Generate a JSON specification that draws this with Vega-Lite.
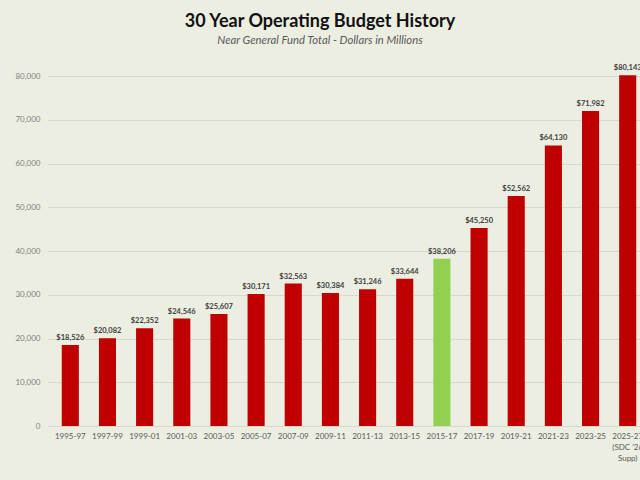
{
  "$schema": "https://vega.github.io/schema/vega-lite/v6.json",
  "description": "30 year operating budget history, near general fund total in millions.",
  "autosize": {"type": "none"},
  "padding": {"left": 48, "top": 76, "right": 0, "bottom": 54},
  "width": 602,
  "height": 350,
  "background": "#ECEEE2",
  "title": {
    "text": "30 Year Operating Budget History",
    "subtitle": "Near General Fund Total - Dollars in Millions",
    "anchor": "middle",
    "dx": -29,
    "offset": 18,
    "font": "Lato",
    "fontSize": 18,
    "fontWeight": "bold",
    "color": "#111111",
    "subtitleFont": "Lato",
    "subtitleFontSize": 11.3,
    "subtitleFontStyle": "italic",
    "subtitleColor": "#595959",
    "subtitlePadding": 4
  },
  "data": {
    "values": [
      {"period": "1995-97", "amount": 18526},
      {"period": "1997-99", "amount": 20082},
      {"period": "1999-01", "amount": 22352},
      {"period": "2001-03", "amount": 24546},
      {"period": "2003-05", "amount": 25607},
      {"period": "2005-07", "amount": 30171},
      {"period": "2007-09", "amount": 32563},
      {"period": "2009-11", "amount": 30384},
      {"period": "2011-13", "amount": 31246},
      {"period": "2013-15", "amount": 33644},
      {"period": "2015-17", "amount": 38206},
      {"period": "2017-19", "amount": 45250},
      {"period": "2019-21", "amount": 52562},
      {"period": "2021-23", "amount": 64130},
      {"period": "2023-25", "amount": 71982},
      {"period": "2025-27|(SDC '26|Supp)", "amount": 80143}
    ]
  },
  "encoding": {
    "x": {
      "field": "period",
      "type": "nominal",
      "sort": null,
      "scale": {"paddingInner": 0.54, "paddingOuter": 0.37},
      "axis": {
        "title": null,
        "labelAngle": 0,
        "labelFont": "Lato",
        "labelFontSize": 8,
        "labelColor": "#595959",
        "labelPadding": 6,
        "labelLineHeight": 11,
        "labelExpr": "split(datum.label, '|')",
        "ticks": false,
        "domain": false
      }
    },
    "y": {
      "field": "amount",
      "type": "quantitative",
      "scale": {"domain": [0, 80000], "nice": false},
      "axis": {
        "title": null,
        "values": [0, 10000, 20000, 30000, 40000, 50000, 60000, 70000, 80000],
        "format": ",.0f",
        "labelFont": "Lato",
        "labelFontSize": 8,
        "labelColor": "#7F7F7F",
        "labelPadding": 8,
        "ticks": false,
        "domain": false,
        "gridColor": "#D6D8CE",
        "gridWidth": 1
      }
    }
  },
  "layer": [
    {
      "mark": {"type": "bar"},
      "encoding": {
        "color": {
          "condition": {"test": "datum.period === '2015-17'", "value": "#92D050"},
          "value": "#C00000"
        }
      }
    },
    {
      "mark": {
        "type": "text",
        "baseline": "alphabetic",
        "dy": -5,
        "font": "Lato",
        "fontSize": 7.5,
        "fontWeight": "bold",
        "color": "#404040"
      },
      "encoding": {
        "text": {"field": "amount", "type": "quantitative", "format": "$,.0f"}
      }
    }
  ],
  "config": {
    "view": {"stroke": null}
  }
}
